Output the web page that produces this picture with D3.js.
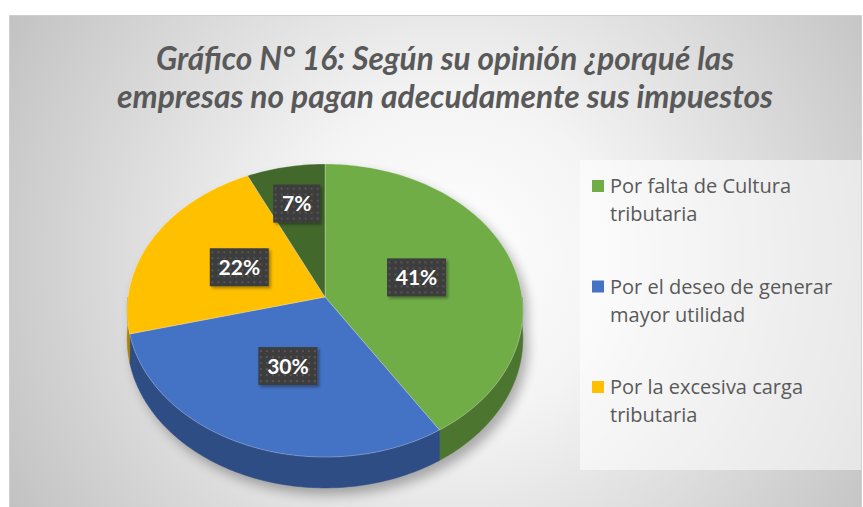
<!DOCTYPE html>
<html>
<head>
<meta charset="utf-8">
<script src="https://cdn.jsdelivr.net/npm/d3@7"></script>
<style>
  body { margin: 0; background: #fff; }
  svg { display: block; }
</style>
</head>
<body>
<svg id="main-svg"></svg>
<script>
// DATA
const categories = ["Por falta de Cultura tributaria", "Por el deseo de generar mayor utilidad", "Por la excesiva carga tributaria", "Otros"];
const legendLines = [["Por falta de Cultura", "tributaria"], ["Por el deseo de generar", "mayor utilidad"], ["Por la excesiva carga", "tributaria"]];
const values = [41, 30, 22, 7];
const colors = ["#70AD47", "#4472C4", "#FFC000", "#43682B"];
const titleLines = ["Gráfico N° 16: Según su opinión ¿porqué las", "empresas no pagan adecudamente sus impuestos"];

// LAYOUT
const WIDTH = 863
const HEIGHT = 507
const CX = 325        // screen position of pie centre
const CY = 297
const RX = 197        // horizontal radius
const RY = 145.3      // vertical radius (before perspective)
const PERSP = 10.85   // camera distance in radius units
const DEPTH = 28      // thickness of the pie

const svg = d3.select("#main-svg")
  .attr("width", WIDTH)
  .attr("height", HEIGHT);

const defs = svg.append("defs");

const bg = defs.append("radialGradient")
  .attr("id", "bg-grad")
  .attr("gradientUnits", "userSpaceOnUse")
  .attr("cx", 450).attr("cy", 260).attr("r", 540);
bg.append("stop").attr("offset", 0).attr("stop-color", "#ffffff");
bg.append("stop").attr("offset", 0.3).attr("stop-color", "#f4f4f4");
bg.append("stop").attr("offset", 1).attr("stop-color", "#bdbdbd");

const pat = defs.append("pattern")
  .attr("id", "dots")
  .attr("patternUnits", "userSpaceOnUse")
  .attr("width", 6).attr("height", 6);
pat.append("rect").attr("width", 6).attr("height", 6).attr("fill", "#3d3d3d");
pat.append("rect").attr("x", 2).attr("y", 2).attr("width", 2).attr("height", 2).attr("fill", "#555555");

const blur = defs.append("filter").attr("id", "blur")
  .attr("x", "-20%").attr("y", "-20%").attr("width", "140%").attr("height", "140%");
blur.append("feGaussianBlur").attr("stdDeviation", 6);

const boxShadow = defs.append("filter").attr("id", "box-shadow")
  .attr("x", "-20%").attr("y", "-20%").attr("width", "150%").attr("height", "150%");
boxShadow.append("feDropShadow")
  .attr("dx", 2).attr("dy", 2).attr("stdDeviation", 1.5)
  .attr("flood-color", "#000").attr("flood-opacity", 0.35);

// chart area
svg.append("rect")
  .attr("x", 9.5).attr("y", 15.5)
  .attr("width", 852).attr("height", 500)
  .attr("fill", "url(#bg-grad)")
  .attr("stroke", "#cfcfcf");

// title
svg.append("g")
  .selectAll("text")
  .data(titleLines)
  .join("text")
  .attr("x", 445)
  .attr("y", (d, i) => 70 + i * 38)
  .attr("text-anchor", "middle")
  .attr("textLength", (d, i) => i === 0 ? 578 : 656)
  .attr("lengthAdjust", "spacingAndGlyphs")
  .attr("font-family", "Lato, 'Open Sans', sans-serif")
  .attr("font-size", 32)
  .attr("font-weight", "bold")
  .attr("font-style", "italic")
  .attr("fill", "#595959")
  .text(d => d);

// perspective projection of a point on the pie disc
// a: angle clockwise from 12 o'clock, r: fraction of radius, dz: drop below top face
const project = (a, r, dz = 0) => {
  const X = Math.sin(a) * r;
  const Z = -Math.cos(a) * r;
  const f = PERSP / (PERSP - Z);
  return [CX + RX * X * f, CY + RY * Z * f + dz * f];
};

const arcPoints = (a0, a1, r, dz) => {
  const n = Math.max(2, Math.ceil((a1 - a0) / 0.02));
  return d3.range(n + 1).map(i => project(a0 + (a1 - a0) * i / n, r, dz));
};

const line = d3.line();
const pie = d3.pie().sort(null).value(d => d);
const slices = pie(values);

const pieGroup = svg.append("g");

// soft shadow under the pie
const outline = arcPoints(Math.PI / 2, Math.PI * 3 / 2, 1, DEPTH)
  .concat(arcPoints(-Math.PI / 2, Math.PI / 2, 1, 0));
pieGroup.append("path")
  .attr("d", line(outline) + "Z")
  .attr("transform", "translate(5 7)")
  .attr("fill", "#000")
  .attr("opacity", 0.3)
  .attr("filter", "url(#blur)");

// side walls (front half only)
pieGroup.selectAll("path.side")
  .data(slices.filter(d => d.endAngle > Math.PI / 2 && d.startAngle < Math.PI * 3 / 2))
  .join("path")
  .attr("class", "side")
  .attr("d", d => {
    const a0 = Math.max(d.startAngle, Math.PI / 2);
    const a1 = Math.min(d.endAngle, Math.PI * 3 / 2);
    const pts = arcPoints(a0, a1, 1, 0).concat(arcPoints(a0, a1, 1, DEPTH).reverse());
    return line(pts) + "Z";
  })
  .attr("fill", d => d3.color(colors[d.index]).darker(1.1))
  .attr("stroke", d => d3.color(colors[d.index]).darker(1.1))
  .attr("stroke-width", 0.5);

// top faces
pieGroup.selectAll("path.top")
  .data(slices)
  .join("path")
  .attr("class", "top")
  .attr("d", d => line([project(0, 0)].concat(arcPoints(d.startAngle, d.endAngle, 1, 0))) + "Z")
  .attr("fill", d => colors[d.index])
  .attr("stroke", "rgba(255,255,255,0.35)")
  .attr("stroke-width", 0.8)
  .attr("stroke-linejoin", "round");

// data labels
const LABEL_W = 59
const LABEL_H = 38
const labelGroup = svg.append("g")
  .selectAll("g")
  .data(slices)
  .join("g")
  .attr("transform", d => {
    const mid = (d.startAngle + d.endAngle) / 2;
    // narrow slices get their label pushed outwards
    const r = (d.endAngle - d.startAngle) < 0.7 ? 0.7 : 0.49;
    const [x, y] = project(mid, r);
    return `translate(${x} ${y})`;
  });

labelGroup.append("rect")
  .attr("x", d => -(String(d.data).length > 1 ? LABEL_W : 47) / 2)
  .attr("y", -LABEL_H / 2)
  .attr("width", d => String(d.data).length > 1 ? LABEL_W : 47)
  .attr("height", LABEL_H)
  .attr("fill", "url(#dots)")
  .attr("filter", "url(#box-shadow)");

labelGroup.append("text")
  .attr("text-anchor", "middle")
  .attr("dy", "0.36em")
  .attr("font-family", "Lato, 'Open Sans', sans-serif")
  .attr("font-size", 21)
  .attr("font-weight", "bold")
  .attr("fill", "#ffffff")
  .text(d => `${d.data}%`);

// legend
svg.append("rect")
  .attr("x", 580).attr("y", 160)
  .attr("width", 281).attr("height", 310)
  .attr("fill", "#ffffff")
  .attr("opacity", 0.55);

const legend = svg.append("g")
  .selectAll("g")
  .data(legendLines)
  .join("g")
  .attr("transform", (d, i) => `translate(592 ${186 + i * 100.5})`);

legend.append("rect")
  .attr("x", 0).attr("y", -6)
  .attr("width", 12).attr("height", 12)
  .attr("fill", (d, i) => colors[i]);

legend.selectAll("text")
  .data(d => d)
  .join("text")
  .attr("x", 18)
  .attr("y", (d, i) => i * 28)
  .attr("dy", "0.36em")
  .attr("font-family", "'Open Sans', Lato, sans-serif")
  .attr("font-size", 20)
  .attr("fill", "#595959")
  .text(d => d);
</script>
</body>
</html>
